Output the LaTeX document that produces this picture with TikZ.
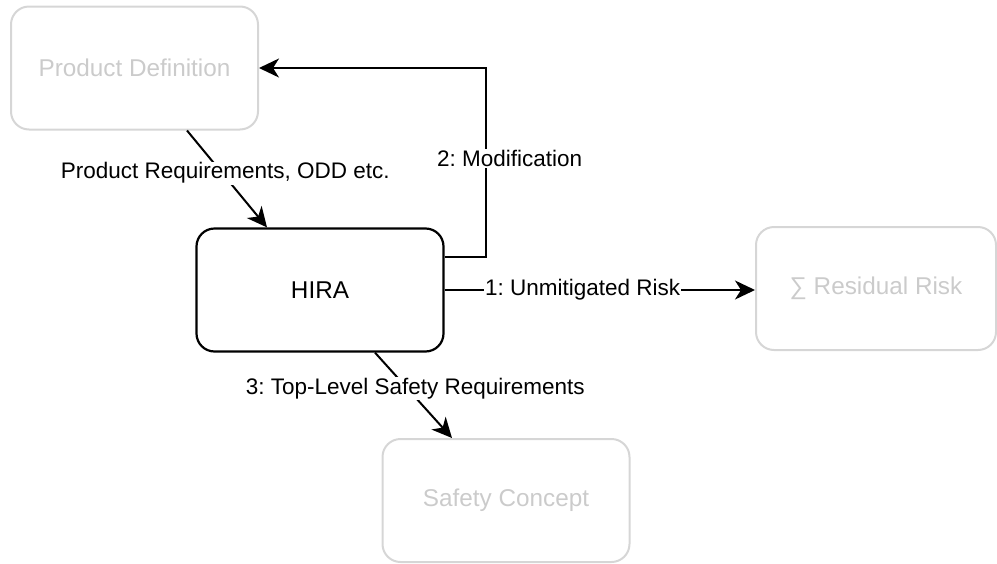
\documentclass[tikz,border=0pt]{standalone}
\usepackage{fontspec}
\setmainfont{Liberation Sans}
\usetikzlibrary{arrows.meta,calc}

\definecolor{fadeline}{HTML}{D6D6D6}
\definecolor{fadetext}{HTML}{CBCBCB}

\tikzset{
  box/.style={draw, rounded corners=18pt, minimum width=247pt, minimum height=123pt,
    inner sep=0pt, align=center, font=\fontsize{24.3}{28}\selectfont},
  mainbox/.style={box, draw=black, line width=2.2pt, text=black},
  fadedbox/.style={box, draw=fadeline, line width=2pt, text=fadetext},
  flow/.style={line width=2pt, -{Stealth[length=20pt, width=19pt, inset=6pt]}},
  lbl/.style={fill=white, inner sep=1pt, font=\fontsize{22.5}{26}\selectfont}
}

\begin{document}
\frenchspacing
\begin{tikzpicture}[x=1pt, y=-1pt]
  \useasboundingbox (0,0) rectangle (997,563);

  % blocks
  \node[fadedbox] (pd) at (134.5,68) {Product Definition};
  \node[mainbox]  (hira) at (320,290) {HIRA};
  \node[fadedbox, minimum width=240pt] (rr) at (876,288.5) {∑ Residual Risk};
  \node[fadedbox] (sc) at (506,500.5) {Safety Concept};

  % connectors
  \draw[flow] ([xshift=52.5pt]pd.south) -- node[lbl, pos=0.44, xshift=3pt] {Product Requirements, ODD etc.}
    ([xshift=-53pt]hira.north);
  \draw[flow] ([yshift=33pt]hira.east) -- ++(41,0) coordinate (turn)
    |- node[lbl, pos=0.26, xshift=24pt] {2: Modification} (pd.east);
  \draw[flow] (hira.east) -- node[lbl, pos=0.445] {1: Unmitigated Risk} (hira.east -| rr.west);
  \draw[flow] ([xshift=55pt]hira.south) -- node[lbl, pos=0.42, xshift=8pt] {3: Top-Level Safety Requirements}
    ([xshift=-54pt]sc.north);
\end{tikzpicture}
\end{document}
